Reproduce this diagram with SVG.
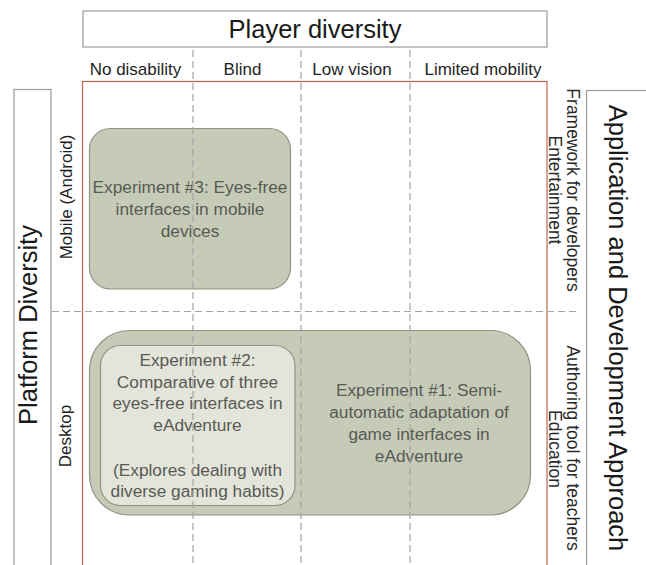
<svg xmlns="http://www.w3.org/2000/svg" width="646" height="565" viewBox="0 0 646 565">
<style>
.frame{fill:#fff;stroke:#9a9a9a;stroke-width:1.2}
.title{font-family:"Liberation Sans",Arial,sans-serif;font-size:25.5px;fill:#1a1a1a}
.lbl{font-family:"Liberation Sans",Arial,sans-serif;font-size:17px;fill:#1f1f1f}
.side{font-family:"Liberation Sans",Arial,sans-serif;font-size:17.5px;fill:#2a2a2a}
.exp{fill:#c6cbb8;stroke:#8e9582;stroke-width:1.2}
.exp2{fill:#e4e5da;stroke:#8e9582;stroke-width:1.2}
.etxt{font-family:"Liberation Sans",Arial,sans-serif;font-size:17.3px;fill:#585a55;text-anchor:middle}
.grid{stroke:#a3a3a3;stroke-width:1.2;stroke-dasharray:7 4;fill:none}
</style>
<rect width="646" height="565" fill="#fff"/>

<g id="player-diversity">
<rect class="frame" x="83" y="11" width="464" height="36"/>
<text class="title" x="315" y="37.5" text-anchor="middle">Player diversity</text>
</g>

<g id="columns">
<text class="lbl" x="135.5" y="75" text-anchor="middle">No disability</text>
<text class="lbl" x="242.5" y="75" text-anchor="middle">Blind</text>
<text class="lbl" x="352" y="75" text-anchor="middle">Low vision</text>
<text class="lbl" x="483" y="75" text-anchor="middle">Limited mobility</text>
</g>

<g id="platform-diversity">
<rect class="frame" x="14" y="89.5" width="37" height="490"/>
<text class="title" transform="translate(36.5 325) rotate(-90)" text-anchor="middle">Platform Diversity</text>
</g>

<g id="platforms">
<text class="lbl" transform="translate(71.5 197) rotate(-90)" text-anchor="middle" font-size="16.5">Mobile (Android)</text>
<text class="lbl" transform="translate(70.5 436) rotate(-90)" text-anchor="middle" font-size="16.5">Desktop</text>
</g>

<g id="app-dev-approach">
<rect class="frame" x="586.5" y="90.5" width="70" height="490"/>
<text class="title" transform="translate(609 328) rotate(90)" text-anchor="middle" font-size="26">Application and Development Approach</text>
</g>

<g id="approaches">
<text class="side" transform="translate(567 190) rotate(90)" text-anchor="middle">Framework for developers</text>
<text class="side" transform="translate(549 190) rotate(90)" text-anchor="middle">Entertainment</text>
<text class="side" transform="translate(567 448) rotate(90)" text-anchor="middle">Authoring tool for teachers</text>
<text class="side" transform="translate(549 449) rotate(90)" text-anchor="middle">Education</text>
</g>

<g id="matrix">
<rect x="82.5" y="81.5" width="464.5" height="500" fill="none" stroke="#b9644f" stroke-width="1.2"/>
</g>

<g id="experiment-3">
<rect class="exp" x="89.5" y="128.5" width="201" height="160.5" rx="21"/>
<text class="etxt" x="190" y="192.5">Experiment #3: Eyes-free</text>
<text class="etxt" x="190" y="214.5">interfaces in mobile</text>
<text class="etxt" x="190" y="236.5">devices</text>
</g>

<g id="experiment-1">
<rect class="exp" x="89.5" y="330.5" width="441" height="184.5" rx="40"/>
<text class="etxt" x="419" y="395.5">Experiment #1: Semi-</text>
<text class="etxt" x="419" y="417.5">automatic adaptation of</text>
<text class="etxt" x="419" y="439.5">game interfaces in</text>
<text class="etxt" x="419" y="461.5">eAdventure</text>
</g>

<g id="experiment-2">
<rect class="exp2" x="100.5" y="345.5" width="194.5" height="160" rx="20"/>
<text class="etxt" x="197.5" y="366">Experiment #2:</text>
<text class="etxt" x="197.5" y="387.5">Comparative of three</text>
<text class="etxt" x="197.5" y="409">eyes-free interfaces in</text>
<text class="etxt" x="197.5" y="430.5">eAdventure</text>
<text class="etxt" x="197.5" y="475.5">(Explores dealing with</text>
<text class="etxt" x="197.5" y="497">diverse gaming habits)</text>
</g>

<g id="connectors">
<line class="grid" x1="193" y1="50" x2="193" y2="565"/>
<line class="grid" x1="301" y1="50" x2="301" y2="565"/>
<line class="grid" x1="410" y1="50" x2="410" y2="565"/>
<line class="grid" x1="52" y1="311.5" x2="578" y2="311.5" stroke-dasharray="6 4"/>
</g>
</svg>
